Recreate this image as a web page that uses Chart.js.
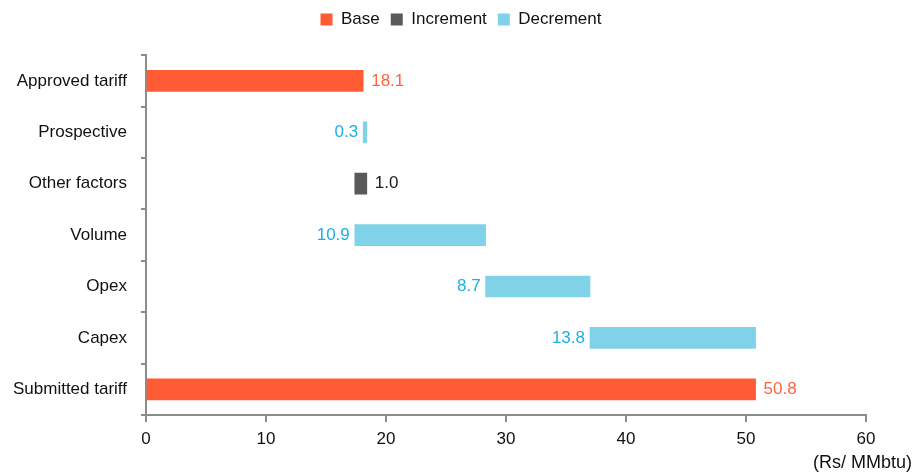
<!DOCTYPE html>
<html>
<head>
<meta charset="utf-8">
<script src="https://cdn.jsdelivr.net/npm/chart.js@4/dist/chart.umd.min.js"></script>
<style>
  html, body { margin: 0; padding: 0; background: #fff; }
  #wrap { width: 922px; height: 476px; position: relative; }
</style>
</head>
<body>
<div id="wrap"><canvas id="waterfall"></canvas></div>
<script>
// categories, top to bottom
const categories = ['Approved tariff', 'Prospective', 'Other factors', 'Volume', 'Opex', 'Capex', 'Submitted tariff'];

// floating bars [start, end] in Rs/MMbtu
const baseValues = [[0, 18.1], null, null, null, null, null, [0, 50.8]];
const incrementValues = [null, null, [17.4, 18.4], null, null, null, null];
const decrementValues = [null, [18.1, 18.4], null, [17.4, 28.3], [28.3, 37.0], [37.0, 50.8], null];

const xTicks = [0, 10, 20, 30, 40, 50, 60];
const unitLabel = '(Rs/ MMbtu)';

const FONT = "'Liberation Sans', Arial, sans-serif";
const AXIS_COLOR = '#8c8c8c';

// value labels: base/increment to the right, decrement to the left
const barLabels = {
    id: 'barLabels',
    afterLayout(chart) {
        // center the legend on the whole canvas, not only the padded box
        const shift = (chart.width - (chart.legend.left + chart.legend.right)) / 2;
        chart.legend.left += shift;
        chart.legend.right += shift;
    },
    afterDatasetsDraw(chart) {
        const ctx = chart.ctx;
        ctx.save();
        ctx.font = '17px ' + FONT;
        ctx.textBaseline = 'middle';
        chart.data.datasets.forEach((ds, di) => {
            const meta = chart.getDatasetMeta(di);
            meta.data.forEach((bar, i) => {
                const v = ds.data[i];
                if (!v) return;
                const txt = (v[1] - v[0]).toFixed(1);
                const left = Math.min(bar.x, bar.base);
                const right = Math.max(bar.x, bar.base);
                ctx.fillStyle = ds.labelColor;
                if (ds.labelSide === 'left') {
                    ctx.textAlign = 'right';
                    ctx.fillText(txt, left - 5, bar.y);
                } else {
                    ctx.textAlign = 'left';
                    ctx.fillText(txt, right + 8, bar.y);
                }
            });
        });
        // unit under the x axis, right side
        const area = chart.chartArea;
        ctx.font = '18px ' + FONT;
        ctx.fillStyle = '#111';
        ctx.textAlign = 'right';
        ctx.fillText(unitLabel, area.right + 46, area.bottom + 48);
        ctx.restore();
    }
};

const canvas = document.getElementById('waterfall');
const chartInstance = new Chart(canvas, {
    type: 'bar',
    data: {
        labels: categories,
        datasets: [
            {
                label: 'Base',
                data: baseValues,
                backgroundColor: '#FF5B35',
                labelColor: '#FF6440',
                labelSide: 'right'
            },
            {
                label: 'Increment',
                data: incrementValues,
                backgroundColor: '#595959',
                labelColor: '#1a1a1a',
                labelSide: 'right'
            },
            {
                label: 'Decrement',
                data: decrementValues,
                backgroundColor: '#7FD2E7',
                labelColor: '#1BB0E8',
                labelSide: 'left'
            }
        ]
    },
    options: {
        indexAxis: 'y',
        responsive: true,
        maintainAspectRatio: false,
        animation: false,
        grouped: false,
        barThickness: 21,
        layout: {
            padding: { left: 0, right: 56, top: 0, bottom: 0 }
        },
        plugins: {
            legend: {
                position: 'top',
                labels: {
                    boxWidth: 12,
                    boxHeight: 12,
                    padding: 11,
                    color: '#111',
                    font: { family: FONT, size: 17 }
                }
            },
            // empty title used as a spacer between legend and plot
            title: {
                display: true,
                text: ' ',
                position: 'top',
                weight: 500,
                font: { size: 1 },
                padding: { top: 0, bottom: 16 }
            },
            tooltip: { enabled: false }
        },
        scales: {
            x: {
                type: 'linear',
                min: 0,
                max: 60,
                afterBuildTicks(scale) {
                    scale.ticks = xTicks.map(v => ({ value: v }));
                },
                afterFit(scale) {
                    scale.height = 61;
                },
                grid: {
                    drawOnChartArea: false,
                    drawTicks: true,
                    tickLength: 7,
                    color: AXIS_COLOR,
                    lineWidth: 2
                },
                border: { color: AXIS_COLOR, width: 2 },
                ticks: {
                    padding: 7,
                    color: '#111',
                    font: { family: FONT, size: 17 }
                }
            },
            y: {
                afterFit(scale) {
                    scale.width = 146;
                },
                grid: {
                    drawOnChartArea: false,
                    drawTicks: true,
                    tickLength: 5,
                    offset: true,
                    color: AXIS_COLOR,
                    lineWidth: 2
                },
                border: { color: AXIS_COLOR, width: 2 },
                ticks: {
                    padding: 14,
                    color: '#111',
                    font: { family: FONT, size: 17 }
                }
            }
        }
    },
    plugins: [barLabels]
});
</script>
</body>
</html>
